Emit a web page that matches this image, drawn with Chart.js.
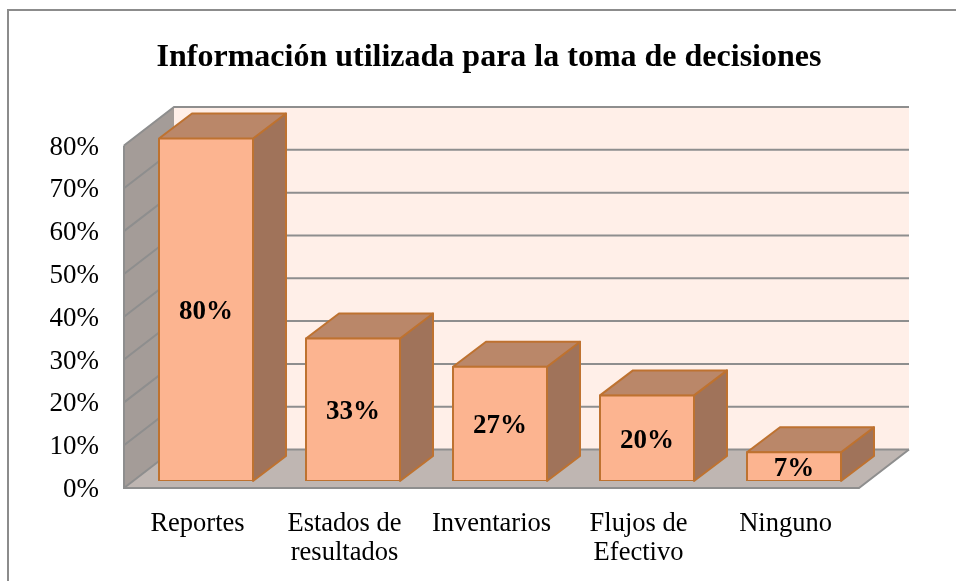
<!DOCTYPE html>
<html>
<head>
<meta charset="utf-8">
<script src="https://cdn.jsdelivr.net/npm/chart.js@4/dist/chart.umd.js"></script>
<style>
  html, body { margin: 0; padding: 0; background: #fff; overflow: hidden; }
  #frame { position: absolute; left: 7px; top: 9px; width: 949px; height: 572px;
           border-left: 2px solid #8c8c8c; border-top: 2px solid #8c8c8c; box-sizing: border-box; }
  canvas { position: absolute; left: 0; top: 0; }
</style>
</head>
<body>
<div id="frame"></div>
<canvas id="chart" width="956" height="581"></canvas>
<script>
const categories = ["Reportes", ["Estados de", "resultados"], "Inventarios", ["Flujos de", "Efectivo"], "Ninguno"];
const values = [80, 33.3, 26.7, 20, 6.7];

const FONT = "'Liberation Serif', 'Times New Roman', serif";
const WALL_DX = 50;
const WALL_DY = 38.5;
const BAR_DX = 33;
const BAR_DY = 25;
const BAR_SHIFT_X = 8.5;
const BAR_SHIFT_Y = -7;
const GRID_COLOR = "#8e8e8e";

const poly = (ctx, points, fill, stroke, lineWidth = 2) => {
  ctx.beginPath();
  points.forEach(([x, y], i) => (i ? ctx.lineTo(x, y) : ctx.moveTo(x, y)));
  ctx.closePath();
  if (fill) {
    ctx.fillStyle = fill;
    ctx.fill();
  }
  if (stroke) {
    ctx.strokeStyle = stroke;
    ctx.lineWidth = lineWidth;
    ctx.lineJoin = "round";
    ctx.stroke();
  }
};

const box3d = {
  id: "box3d",
  // walls, floor and gridlines behind the bars
  beforeDatasetsDraw(chart) {
    const { ctx, chartArea: { left, right, top, bottom }, scales: { y } } = chart;
    ctx.save();
    poly(ctx, [[left + WALL_DX, top - WALL_DY], [right + WALL_DX, top - WALL_DY], [right + WALL_DX, bottom - WALL_DY], [left + WALL_DX, bottom - WALL_DY]], "#ffefe8");
    poly(ctx, [[left, top], [left + WALL_DX, top - WALL_DY], [left + WALL_DX, bottom - WALL_DY], [left, bottom]], "#a49c98");
    poly(ctx, [[left, bottom], [left + WALL_DX, bottom - WALL_DY], [right + WALL_DX, bottom - WALL_DY], [right, bottom]], "#bfb6b2");

    ctx.strokeStyle = GRID_COLOR;
    ctx.lineWidth = 2;
    y.ticks.forEach(({ value }) => {
      const py = y.getPixelForValue(value);
      ctx.beginPath();
      ctx.moveTo(left, py);
      ctx.lineTo(left + WALL_DX, py - WALL_DY);
      ctx.lineTo(right + WALL_DX, py - WALL_DY);
      ctx.stroke();
    });
    // axis edges of the box
    ctx.beginPath();
    ctx.moveTo(left, top);
    ctx.lineTo(left, bottom);
    ctx.lineTo(right, bottom);
    ctx.lineTo(right + WALL_DX, bottom - WALL_DY);
    ctx.stroke();
    ctx.restore();
  },
  // side and top faces, then shift so the library's front face lines up
  beforeDatasetDraw(chart) {
    const { ctx } = chart;
    ctx.save();
    ctx.translate(BAR_SHIFT_X, BAR_SHIFT_Y);
    chart.getDatasetMeta(0).data.forEach((bar) => {
      const l = bar.x - bar.width / 2;
      const r = bar.x + bar.width / 2;
      poly(ctx, [[r, bar.y], [r + BAR_DX, bar.y - BAR_DY], [r + BAR_DX, bar.base - BAR_DY], [r, bar.base]], "#a0735a", "#be7230");
      poly(ctx, [[l, bar.y], [l + BAR_DX, bar.y - BAR_DY], [r + BAR_DX, bar.y - BAR_DY], [r, bar.y]], "#ba8769", "#be7230");
    });
  },
  afterDatasetDraw(chart) {
    chart.ctx.restore();
  },
  afterDatasetsDraw(chart) {
    const { ctx } = chart;
    ctx.save();
    ctx.font = `bold 27px ${FONT}`;
    ctx.fillStyle = "#000";
    ctx.textAlign = "center";
    ctx.textBaseline = "middle";
    chart.getDatasetMeta(0).data.forEach((bar, i) => {
      const cy = (bar.y + bar.base) / 2 + BAR_SHIFT_Y + 2.5;
      ctx.fillText(`${Math.round(values[i])}%`, bar.x + BAR_SHIFT_X, cy);
    });
    ctx.restore();
  },
};

new Chart(document.getElementById("chart").getContext("2d"), {
  type: "bar",
  data: {
    labels: categories,
    datasets: [{
      data: values,
      backgroundColor: "#fcb490",
      borderColor: "#be7230",
      // 1px inflate centres the 2px line on the bar edge
      borderWidth: 2,
      inflateAmount: 1,
      borderSkipped: false,
      barPercentage: 94 / 147,
      categoryPercentage: 1,
    }],
  },
  plugins: [box3d],
  options: {
    responsive: false,
    animation: false,
    layout: { padding: { left: 22, right: 0, top: 39, bottom: 0 } },
    plugins: {
      legend: { display: false },
      tooltip: { enabled: false },
      title: {
        display: true,
        text: "Información utilizada para la toma de decisiones",
        color: "#000",
        font: { family: FONT, size: 32, weight: "bold", lineHeight: 1.15 },
        padding: { top: 0, bottom: 69.7 },
      },
    },
    scales: {
      x: {
        grid: { display: false, drawTicks: false },
        border: { display: false },
        ticks: {
          color: "#000",
          font: { family: FONT, size: 26.5, lineHeight: 1.12 },
          padding: 21,
          maxRotation: 0,
          autoSkip: false,
        },
        afterFit: (scale) => { scale.height = 93; },
      },
      y: {
        min: 0,
        max: 80,
        grid: { display: false, drawTicks: false },
        border: { display: false },
        ticks: {
          stepSize: 10,
          color: "#000",
          font: { family: FONT, size: 27 },
          padding: 25,
          labelOffset: 2,
          callback: (value) => `${value}%`,
        },
        afterFit: (scale) => { scale.width = 102; },
      },
      // empty right axis keeps the plot narrower than the title's box
      spacer: {
        position: "right",
        display: true,
        grid: { display: false, drawTicks: false },
        border: { display: false },
        ticks: { display: false },
        afterFit: (scale) => { scale.width = 97; },
      },
    },
  },
});
</script>
</body>
</html>
